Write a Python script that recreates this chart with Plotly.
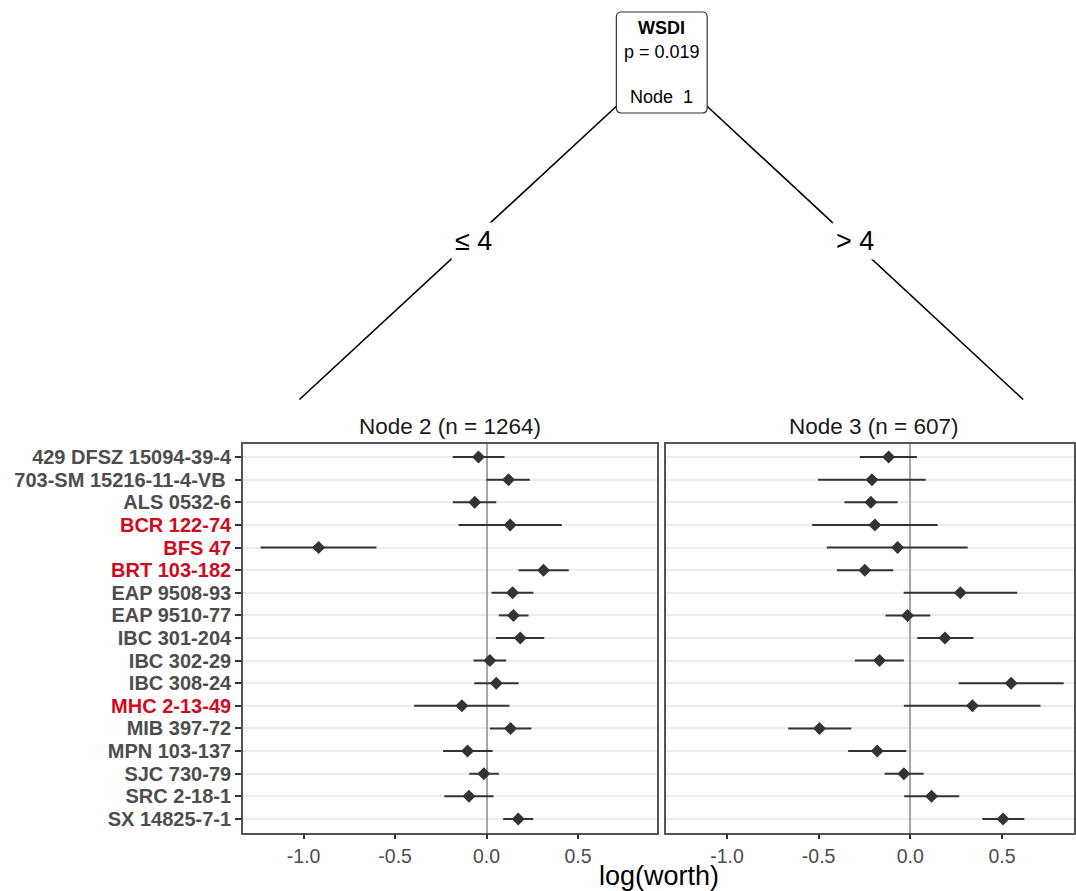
import plotly.graph_objects as go

# ---------------- data ----------------
genotypes = ["429 DFSZ 15094-39-4", "703-SM 15216-11-4-VB\u00a0", "ALS 0532-6", "BCR 122-74",
             "BFS 47", "BRT 103-182", "EAP 9508-93", "EAP 9510-77", "IBC 301-204",
             "IBC 302-29", "IBC 308-24", "MHC 2-13-49", "MIB 397-72", "MPN 103-137",
             "SJC 730-79", "SRC 2-18-1", "SX 14825-7-1"]
highlighted = ["BCR 122-74", "BFS 47", "BRT 103-182", "MHC 2-13-49"]

node2_est = [-0.044, 0.120, -0.065, 0.129, -0.918, 0.311, 0.142, 0.147, 0.184,
             0.018, 0.053, -0.135, 0.131, -0.104, -0.015, -0.096, 0.173]
node2_lo = [-0.185, 0.000, -0.184, -0.153, -1.235, 0.175, 0.027, 0.067, 0.051,
            -0.071, -0.067, -0.396, 0.018, -0.238, -0.095, -0.231, 0.091]
node2_hi = [0.098, 0.236, 0.053, 0.411, -0.602, 0.449, 0.256, 0.229, 0.315,
            0.107, 0.175, 0.125, 0.245, 0.033, 0.067, 0.038, 0.255]

node3_est = [-0.118, -0.209, -0.215, -0.193, -0.069, -0.248, 0.273, -0.015, 0.189,
             -0.168, 0.550, 0.339, -0.495, -0.180, -0.035, 0.116, 0.506]
node3_lo = [-0.275, -0.504, -0.359, -0.535, -0.455, -0.400, -0.036, -0.135, 0.038,
            -0.302, 0.264, -0.035, -0.666, -0.339, -0.140, -0.033, 0.393]
node3_hi = [0.036, 0.084, -0.069, 0.149, 0.313, -0.093, 0.583, 0.109, 0.344,
            -0.035, 0.837, 0.710, -0.322, -0.022, 0.073, 0.267, 0.622]

x_ticks = [-1.0, -0.5, 0.0, 0.5]
x_ticktext = ["-1.0", "-0.5", "0.0", "0.5"]

split_var = "WSDI"
split_p = "p = 0.019"
split_left = "\u2264 4"
split_right = "> 4"
node_titles = ["Node 2 (n = 1264)", "Node 3 (n = 607)"]

# ---------------- geometry helpers ----------------
W, H = 1076, 891
FONT = "Liberation Sans, Arial, sans-serif"
INK = "#333333"
RED = "#cf0a1e"


def px(x):
    return x / W


def py(y):
    return 1 - y / H


ypos = list(range(1, len(genotypes) + 1))
ticktext = []
for g in genotypes:
    if g.strip() in highlighted:
        ticktext.append(f"<b><span style='color:{RED}'>{g}</span></b>")
    else:
        ticktext.append(f"<b>{g}</b>")

fig = go.Figure()


def add_node(est, lo, hi, xa, ya):
    fig.add_trace(go.Scatter(
        x=est, y=ypos, xaxis=xa, yaxis=ya, mode="markers",
        marker=dict(symbol="diamond", size=10, color=INK),
        error_x=dict(type="data", symmetric=False,
                     array=[h - e for h, e in zip(hi, est)],
                     arrayminus=[e - l for e, l in zip(est, lo)],
                     color=INK, thickness=2, width=0),
        showlegend=False, hoverinfo="x+y"))


add_node(node2_est, node2_lo, node2_hi, "x", "y")
add_node(node3_est, node3_lo, node3_hi, "x2", "y2")

ydom = [py(832.5), py(443.5)]
xaxis_common = dict(tickvals=x_ticks, ticktext=x_ticktext, ticks="outside", ticklen=5,
                    tickwidth=1.5, tickcolor=INK, showgrid=False,
                    zeroline=True, zerolinecolor="#a6a6a6", zerolinewidth=2,
                    showline=True, mirror=True, linecolor="#555555", linewidth=1.8,
                    tickfont=dict(family=FONT, size=19.5, color="#4d4d4d"), fixedrange=True)
yaxis_common = dict(range=[17.6, 0.4], tickvals=ypos, showgrid=True, gridcolor="#ebebeb",
                    gridwidth=1.5, zeroline=False, showline=True, mirror=True,
                    linecolor="#555555", linewidth=1.8, domain=ydom, fixedrange=True)

fig.update_layout(
    width=W, height=H, margin=dict(l=0, r=0, t=0, b=0),
    paper_bgcolor="white", plot_bgcolor="white",
    xaxis=dict(domain=[px(243.5), px(658.5)], range=[-1.331, 0.933], anchor="y", **xaxis_common),
    xaxis2=dict(domain=[px(667.5), 1.0], range=[-1.331, 0.893], anchor="y2", **xaxis_common),
    yaxis=dict(anchor="x", ticktext=ticktext, ticks="outside", ticklen=6, tickwidth=1.5,
               tickcolor=INK, tickfont=dict(family=FONT, size=20, color="#4d4d4d"),
               **yaxis_common),
    yaxis2=dict(anchor="x2", showticklabels=False, ticks="", **yaxis_common),
)

# ---------------- tree drawing ----------------
shapes = []
# edges
shapes.append(dict(type="line", xref="paper", yref="paper",
                   x0=px(620), y0=py(104), x1=px(300), y1=py(399.5),
                   line=dict(color="black", width=1.6)))
shapes.append(dict(type="line", xref="paper", yref="paper",
                   x0=px(706), y0=py(104), x1=px(1025), y1=py(399.5),
                   line=dict(color="black", width=1.6)))
# rounded node box
bx0, bx1, by0, by1, r = 617.5, 708.5, 12, 113, 5
path = (f"M {px(bx0 + r)} {py(by0)} L {px(bx1 - r)} {py(by0)} "
        f"Q {px(bx1)} {py(by0)} {px(bx1)} {py(by0 + r)} "
        f"L {px(bx1)} {py(by1 - r)} Q {px(bx1)} {py(by1)} {px(bx1 - r)} {py(by1)} "
        f"L {px(bx0 + r)} {py(by1)} Q {px(bx0)} {py(by1)} {px(bx0)} {py(by1 - r)} "
        f"L {px(bx0)} {py(by0 + r)} Q {px(bx0)} {py(by0)} {px(bx0 + r)} {py(by0)} Z")
shapes.append(dict(type="path", xref="paper", yref="paper", path=path,
                   fillcolor="white", line=dict(color="#333333", width=1.2)))
fig.update_layout(shapes=shapes)


def label(x, y, text, size, color="black", **kw):
    return dict(x=px(x), y=py(y), text=text, showarrow=False, xref="paper", yref="paper",
                xanchor="center", yanchor="middle",
                font=dict(family=FONT, size=size, color=color), **kw)


ann = [
    label(663, 28, f"<b>{split_var}</b>", 18),
    label(663, 52, split_p, 18),
    label(663, 97, "Node\u00a0\u00a01", 18),
    label(474, 241, split_left, 27, bgcolor="white", borderpad=3),
    label(857, 241, split_right, 27, bgcolor="white", borderpad=3),
    label(451, 426, node_titles[0], 22.5, "#1a1a1a"),
    label(876, 426, node_titles[1], 22.5, "#1a1a1a"),
    label(660, 876, "log(worth)", 27),
]
fig.update_layout(annotations=ann)

fig.write_html("out.html", config={"displayModeBar": False},
               post_script="document.body.style.margin='0';document.body.style.overflow='hidden';")
